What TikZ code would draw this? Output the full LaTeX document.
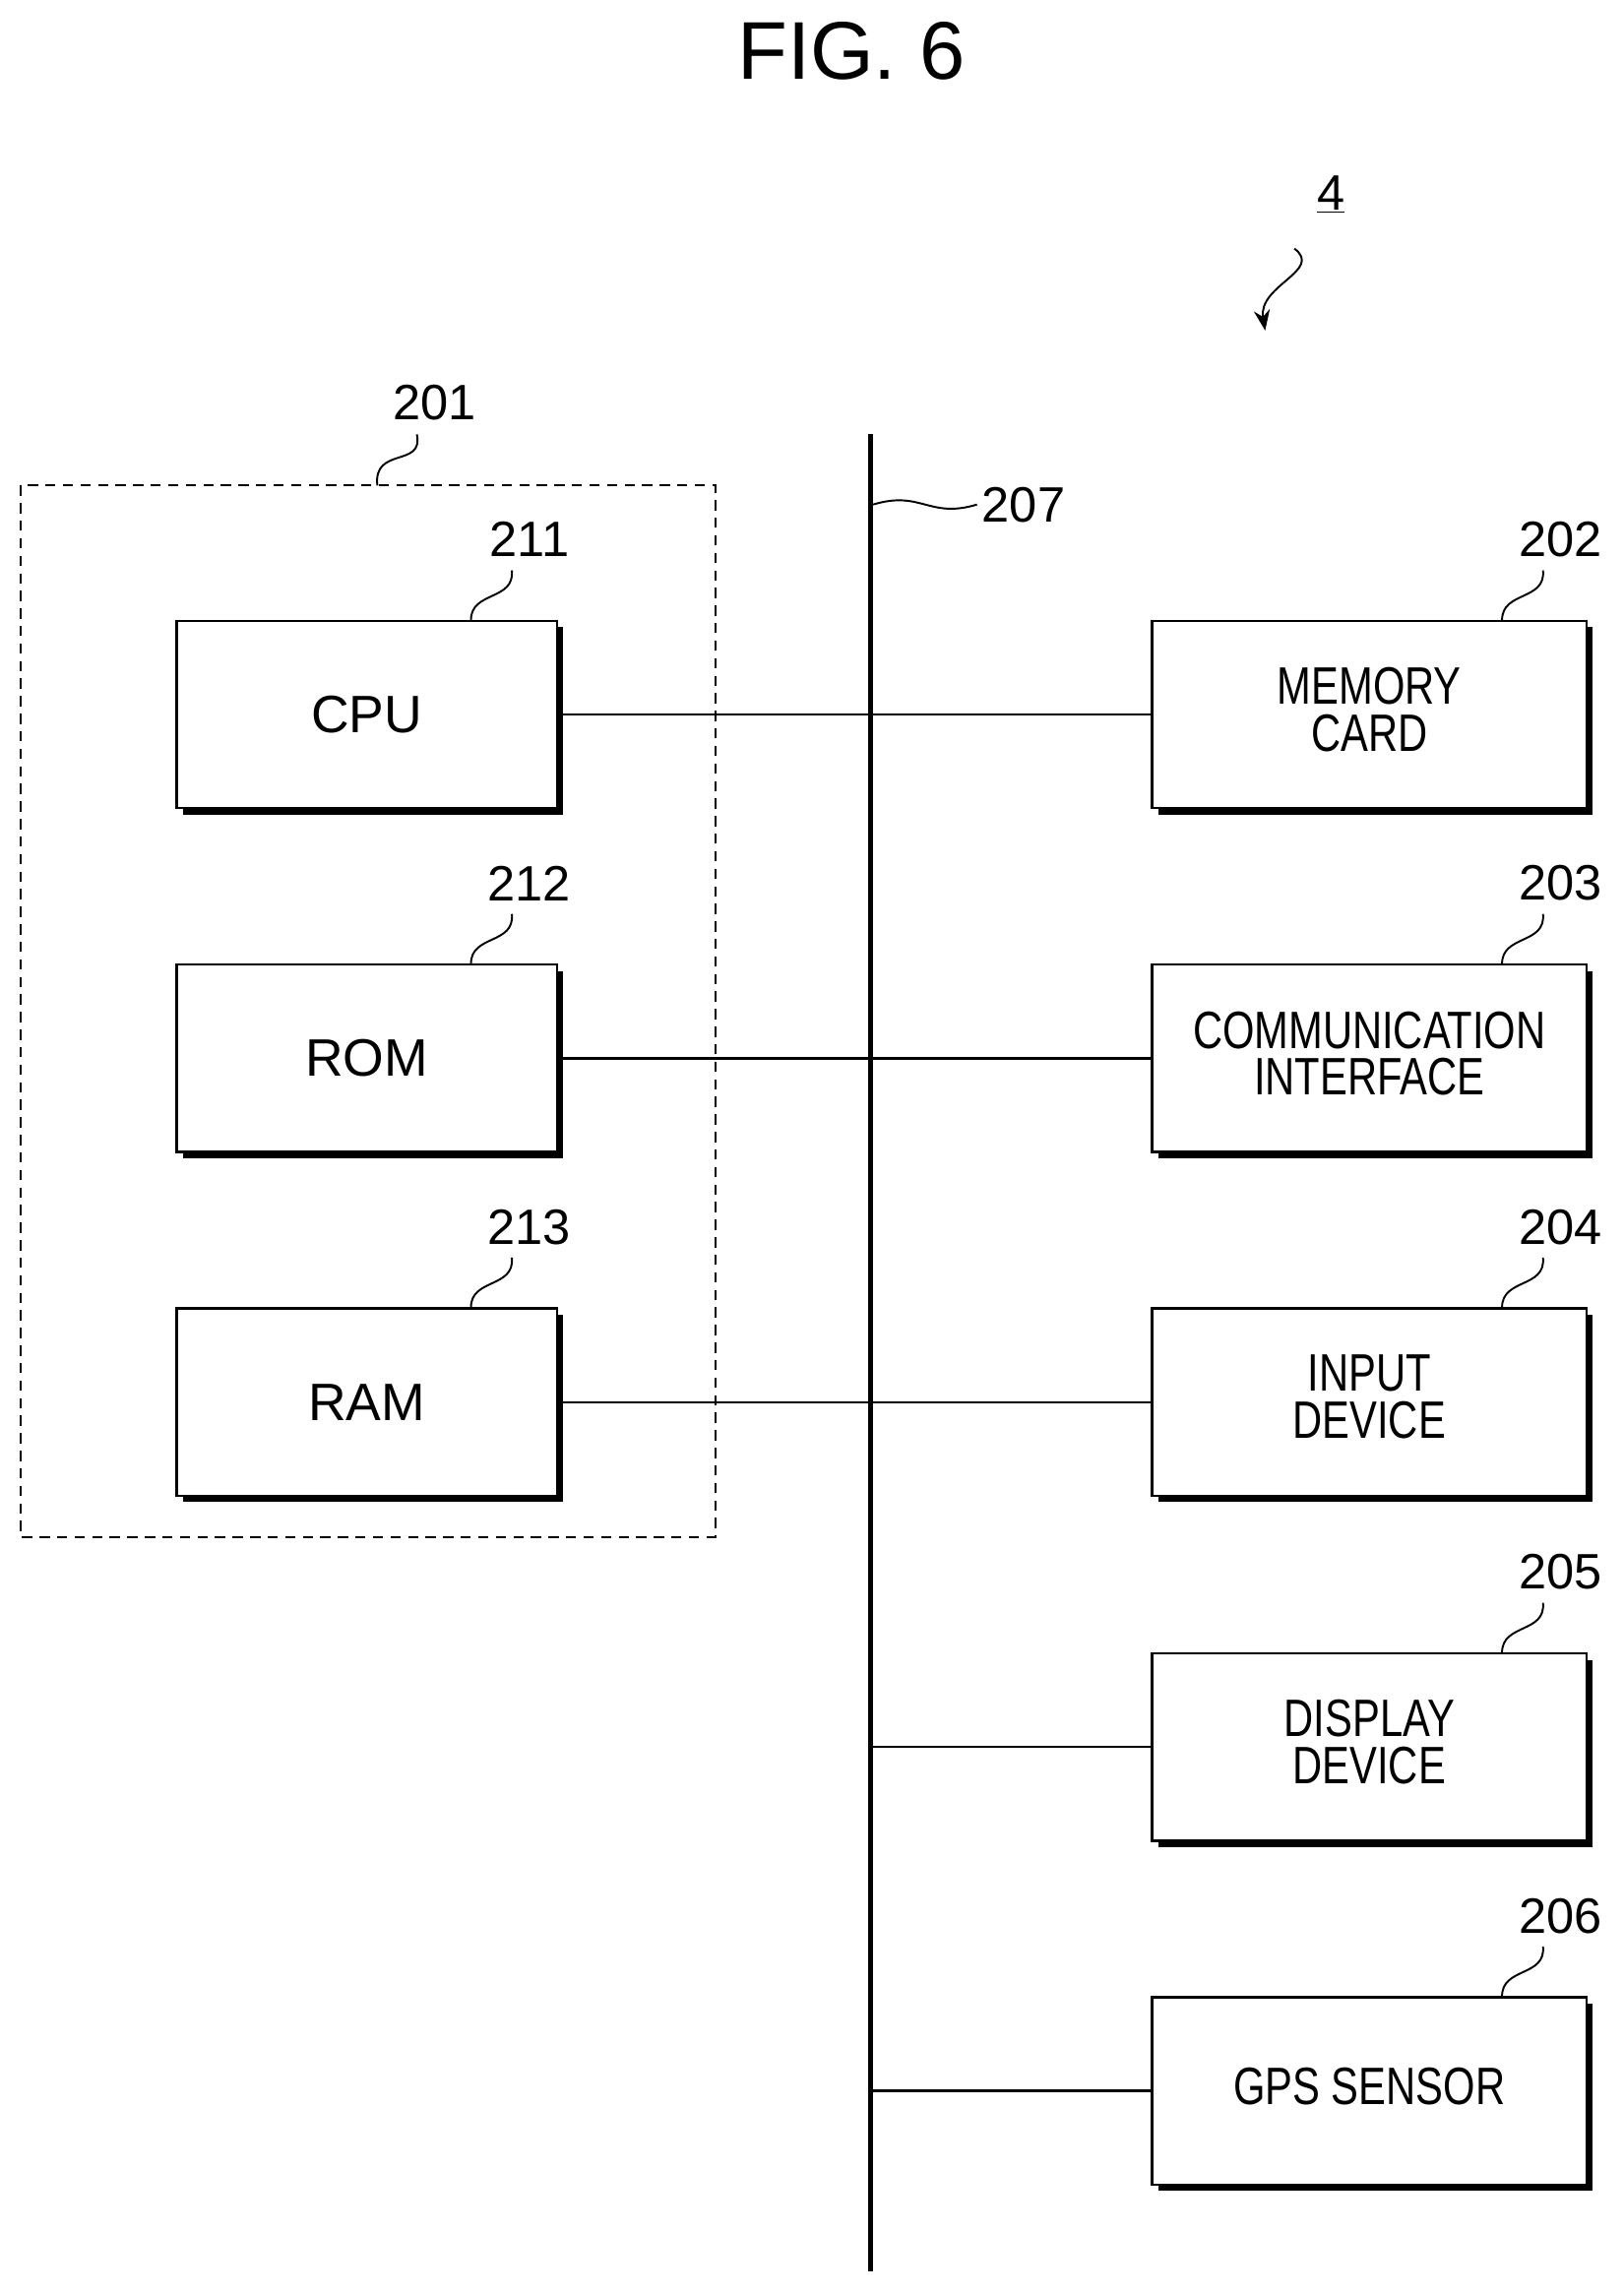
\documentclass[tikz,border=0pt]{standalone}
\usepackage{fontspec}
\setmainfont{Liberation Sans}
\usetikzlibrary{arrows.meta}
\begin{document}
\begin{tikzpicture}[x=1pt,y=-1pt,
 box/.style={draw,line width=1.5pt,minimum width=260pt,minimum height=128pt,anchor=north west,inner sep=0pt,align=center,font=\fontsize{36}{30}\selectfont},
 num/.style={font=\fontsize{34}{34}\selectfont},
 lead/.style={line width=1.3pt},
 conn/.style={line width=1.5pt}]
\useasboundingbox (0,0) rectangle (1110,1568);
\node[font=\fontsize{56}{56}\selectfont] (title) at (582,35) {FIG. 6};
\node[num] (n4) at (910,133) {\underline{4}};
\coordinate (a4s) at (885,170);
\coordinate (a4e) at (865,226);
\draw[lead,-{Stealth[length=14pt,width=11pt]}] (a4s) .. controls (905,185) and (860,195) .. (a4e);
% dashed group
\draw[dash pattern=on 7pt off 5pt,line width=1.4pt] (14,332) rectangle (489,1051);
\node[num] (n201) at (297,275) {201};
\coordinate (c201) at (258,332);
\draw[lead] (285,297) .. controls (290,320) and (255,305) .. (c201);
% bus
\coordinate (bt) at (595,297); \coordinate (bb) at (595,1553);
\draw[line width=3.5pt] (bt) -- (bb);
\node[num,anchor=west] (n207) at (668,345) {207};
\draw[lead] (597,345) .. controls (630,335) and (635,355) .. (n207.west);
\foreach \n/\x/\y/\t in {cpu/120/424/CPU,rom/120/659/ROM,ram/120/894/RAM}{
 \fill (\x+5,\y+5) rectangle (\x+265,\y+133);
 \node[box,fill=white,font=\fontsize{36}{36}\selectfont] (\n) at (\x,\y) {\t};}
\renewcommand\arraystretch{0.78}
\foreach \n/\y/\t in {mem/424/{MEMORY\\CARD},com/659/{COMMUNICATION\\INTERFACE},inp/894/{INPUT\\DEVICE},dis/1130/{DISPLAY\\DEVICE},gps/1365/{GPS SENSOR}}{
 \fill (792,\y+5) rectangle (1089,\y+133);
 \node[box,fill=white,minimum width=297pt] (\n) at (787,\y) {\raisebox{-6pt}{\scalebox{0.78}[1]{\begin{tabular}{@{}c@{}}\t\end{tabular}}}};}
% numbers
\foreach \x/\y/\l in {362/369/211,362/604/212,362/839/213}{
 \node[num] (l\l) at (\x,\y) {\l};
 \draw[lead] (\x-12,\y+21) .. controls (\x-10,\y+42) and (\x-40,\y+35) .. (\x-40,\y+55);}
\foreach \y/\l in {369/202,604/203,839/204,1075/205,1310/206}{
 \node[num] (l\l) at (1067,\y) {\l};
 \draw[lead] (1055,\y+21) .. controls (1057,\y+42) and (1027,\y+35) .. (1027,\y+55);}
% connectors
\draw[conn] (cpu.east) -- (mem.west);
\draw[conn] (rom.east) -- (com.west);
\draw[conn] (ram.east) -- (inp.west);
\draw[conn] (bt|-dis.west) -- (dis.west);
\draw[conn] (bt|-gps.west) -- (gps.west);
\end{tikzpicture}
\end{document}
